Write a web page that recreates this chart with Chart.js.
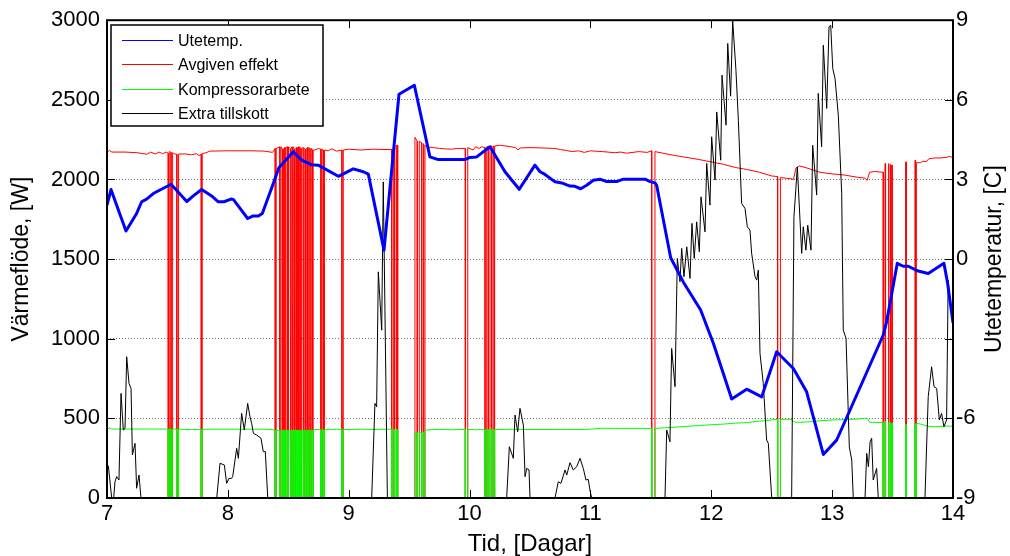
<!DOCTYPE html>
<html>
<head>
<meta charset="utf-8">
<script src="https://cdn.jsdelivr.net/npm/chart.js@4.4.1/dist/chart.umd.min.js"></script>
<style>
  html, body { margin: 0; padding: 0; background: #fff; }
  #chart { display: block; }
</style>
</head>
<body>
<canvas id="chart" width="1010" height="556"></canvas>
<script>
// tick labels
const tidTicks = [7, 8, 9, 10, 11, 12, 13, 14];
const effektTicks = [0, 500, 1000, 1500, 2000, 2500, 3000];
const tempTicks = [-9, -6, -3, 0, 3, 6, 9];
const tempHiddenLabel = -3; // the original leaves this tick unlabelled

const seriesNames = ['Utetemp.', 'Avgiven effekt', 'Kompressorarbete', 'Extra tillskott'];

// outdoor temperature [C], right axis
const dagTemp = [7.000, 7.033, 7.157, 7.245, 7.287, 7.328, 7.383, 7.530, 7.660, 7.714,
  7.783, 7.866, 7.921, 7.968, 8.026, 8.045, 8.164, 8.205, 8.252, 8.285,
  8.335, 8.376, 8.423, 8.473, 8.541, 8.611, 8.694, 8.748, 8.914, 9.038,
  9.121, 9.162, 9.292, 9.416, 9.543, 9.672, 9.741, 9.962, 10.003, 10.059,
  10.169, 10.293, 10.411, 10.541, 10.583, 10.624, 10.707, 10.762, 10.831, 10.872,
  10.919, 10.969, 11.024, 11.079, 11.135, 11.217, 11.272, 11.452, 11.494, 11.534,
  11.548, 11.664, 11.768, 11.912, 12.017, 12.169, 12.293, 12.417, 12.541, 12.679,
  12.789, 12.927, 13.037, 13.093, 13.423, 13.451, 13.539, 13.588, 13.630, 13.712,
  13.795, 13.925, 13.955, 14.000];
const uteTemp = [2.03, 2.62, 1.06, 1.72, 2.16, 2.26, 2.47, 2.82, 2.17, 2.38,
  2.62, 2.38, 2.16, 2.16, 2.26, 2.25, 1.53, 1.62, 1.62, 1.72,
  2.34, 2.85, 3.45, 3.70, 4.04, 3.73, 3.55, 3.54, 3.12, 3.40,
  3.29, 3.20, 0.34, 6.21, 6.55, 3.85, 3.75, 3.75, 3.83, 3.85,
  4.23, 3.29, 2.63, 3.54, 3.29, 3.19, 2.91, 2.87, 2.75, 2.74,
  2.65, 2.78, 2.97, 3.01, 2.92, 2.92, 3.01, 3.01, 2.92, 2.87,
  2.78, 0.05, -0.86, -1.92, -3.17, -5.27, -4.90, -5.19, -3.49, -4.12,
  -5.00, -7.36, -6.82, -6.25, -2.86, -2.36, -0.16, -0.27, -0.27, -0.45,
  -0.54, -0.16, -0.90, -2.40];

// heat pump samples: delivered heat and compressor work [W]
const dagPump = [7.000, 7.020, 7.040, 7.150, 7.250, 7.330, 7.360, 7.400, 7.430, 7.460, 7.490,
  7.507, 7.507, 7.515, 7.515, 7.530, 7.530, 7.543, 7.543, 7.560,
  7.578, 7.578, 7.592, 7.592, 7.650, 7.700, 7.740, 7.760,
  7.780, 7.780, 7.788, 7.788, 7.820, 7.850, 8.000, 8.200, 8.300, 8.370,
  8.392, 8.392, 8.400, 8.400, 8.430, 8.430, 8.440, 8.440,
  8.452, 8.452, 8.460, 8.460, 8.470, 8.470, 8.478, 8.478,
  8.492, 8.492, 8.502, 8.502, 8.515, 8.515, 8.522, 8.522,
  8.532, 8.532, 8.540, 8.540, 8.550, 8.550, 8.558, 8.558,
  8.568, 8.568, 8.576, 8.576, 8.586, 8.586, 8.594, 8.594,
  8.604, 8.604, 8.612, 8.612, 8.622, 8.622, 8.630, 8.630,
  8.640, 8.640, 8.648, 8.648, 8.658, 8.658, 8.666, 8.666,
  8.680, 8.680, 8.690, 8.690, 8.700, 8.700, 8.706, 8.706,
  8.720, 8.750, 8.770, 8.770, 8.778, 8.778, 8.790, 8.790, 8.800, 8.800,
  8.830, 8.860, 8.900, 8.944, 8.944, 8.955, 8.955,
  9.000, 9.100, 9.200, 9.300,
  9.356, 9.356, 9.372, 9.372, 9.380, 9.380, 9.395, 9.395, 9.405, 9.405,
  9.548, 9.548, 9.567, 9.567, 9.584, 9.584, 9.604, 9.604,
  9.617, 9.617, 9.622, 9.622, 9.631, 9.631,
  9.650, 9.700, 9.750, 9.800, 9.850, 9.900,
  9.965, 9.965, 9.985, 9.985, 10.030, 10.050, 10.080, 10.100,
  10.128, 10.128, 10.142, 10.142, 10.155, 10.155, 10.169, 10.169,
  10.183, 10.183, 10.196, 10.196, 10.203, 10.203, 10.210, 10.210,
  10.250, 10.300, 10.350, 10.380, 10.400, 10.420, 10.500, 10.600, 10.700,
  10.750, 10.800, 10.850, 10.900, 10.950, 11.000, 11.100, 11.200, 11.250,
  11.300, 11.400, 11.470,
  11.507, 11.507, 11.534, 11.534,
  11.600, 11.700, 11.800, 11.900, 12.000, 12.100, 12.200, 12.300, 12.400, 12.500,
  12.549, 12.549, 12.572, 12.572,
  12.620, 12.660, 12.680, 12.700, 12.730, 12.800, 12.900, 13.000, 13.100,
  13.200, 13.270, 13.290, 13.310, 13.350,
  13.423, 13.423, 13.437, 13.437, 13.442, 13.442, 13.465, 13.465,
  13.470, 13.470, 13.479, 13.479, 13.484, 13.484, 13.493, 13.493,
  13.497, 13.497, 13.608, 13.608, 13.614, 13.614, 13.685, 13.685,
  13.690, 13.690, 13.697, 13.697,
  13.730, 13.750, 13.780, 13.800, 13.850, 13.900, 13.950, 13.970, 14.000];
const avgivenEffekt = [2170, 2182, 2172, 2172, 2168, 2158, 2172, 2160, 2172, 2162, 2172,
  2165, 0, 0, 2175, 2170, 0, 0, 2168, 2160,
  2158, 0, 0, 2160, 2160, 2155, 2162, 2150,
  2158, 0, 0, 2162, 2168, 2178, 2180, 2180, 2178, 2170,
  2195, 0, 0, 2195, 2205, 0, 0, 2205,
  2190, 0, 0, 2190, 2200, 0, 0, 2200,
  2205, 0, 0, 2205, 2195, 0, 0, 2195,
  2205, 0, 0, 2205, 2190, 0, 0, 2190,
  2200, 0, 0, 2200, 2205, 0, 0, 2205,
  2195, 0, 0, 2195, 2200, 0, 0, 2200,
  2190, 0, 0, 2190, 2200, 0, 0, 2200,
  2195, 0, 0, 2195, 2185, 0, 0, 2185,
  2185, 2195, 2190, 0, 0, 2190, 2185, 0, 0, 2185,
  2180, 2192, 2178, 2185, 0, 0, 2185,
  2190, 2185, 2190, 2188,
  2188, 0, 0, 2215, 2215, 0, 0, 2215, 2215, 0,
  0, 2265, 2240, 0, 0, 2240, 2230, 0,
  0, 2225, 2225, 0, 0, 2215,
  2205, 2200, 2195, 2192, 2190, 2195,
  2195, 0, 0, 2200, 2185, 2205, 2195, 2205,
  2200, 0, 0, 2205, 2205, 0, 0, 2210,
  2210, 0, 0, 2210, 2210, 0, 0, 2210,
  2215, 2210, 2205, 2200, 2185, 2198, 2200, 2198, 2195,
  2188, 2182, 2175, 2180, 2170, 2180, 2175, 2168, 2172,
  2165, 2175, 2170,
  2180, 0, 0, 2175,
  2165, 2150, 2138, 2125, 2110, 2095, 2075, 2062, 2045, 2022,
  2018, 0, 0, 2012,
  2008, 2005, 2000, 2070, 2085, 2070, 2045, 2035, 2028,
  2015, 2008, 1995, 2045, 2050,
  2045, 0, 0, 2100, 2100, 0, 0, 2100,
  2100, 0, 0, 2095, 2095, 0, 0, 2090,
  2090, 0, 0, 2110, 2110, 0, 0, 2120,
  2120, 0, 0, 2105,
  2105, 2115, 2112, 2130, 2135, 2135, 2140, 2145, 2138];
const kompressorarbete = [430, 440, 433, 433, 433, 433, 433, 433, 433, 433, 433,
  433, 0, 0, 433, 433, 0, 0, 433, 433,
  433, 0, 0, 433, 430, 430, 430, 430,
  430, 0, 0, 430, 432, 432, 432, 432, 432, 430,
  425, 0, 0, 425, 425, 0, 0, 425,
  425, 0, 0, 425, 425, 0, 0, 425,
  425, 0, 0, 425, 425, 0, 0, 425,
  425, 0, 0, 425, 425, 0, 0, 425,
  425, 0, 0, 425, 425, 0, 0, 425,
  425, 0, 0, 425, 425, 0, 0, 425,
  425, 0, 0, 425, 425, 0, 0, 425,
  425, 0, 0, 425, 425, 0, 0, 425,
  430, 430, 428, 0, 0, 428, 428, 0, 0, 428,
  432, 430, 432, 430, 0, 0, 430,
  430, 432, 430, 432,
  432, 0, 0, 430, 430, 0, 0, 430, 430, 0,
  0, 410, 410, 0, 0, 410, 410, 0,
  0, 415, 415, 0, 0, 425,
  427, 430, 430, 430, 428, 430,
  430, 0, 0, 430, 430, 428, 430, 430,
  430, 0, 0, 430, 430, 0, 0, 430,
  430, 0, 0, 430, 430, 0, 0, 430,
  430, 430, 432, 430, 430, 430, 430, 430, 430,
  430, 430, 430, 430, 430, 432, 438, 437, 437,
  437, 437, 437,
  437, 0, 0, 437,
  440, 445, 450, 455, 460, 464, 470, 474, 482, 490,
  494, 0, 0, 494,
  494, 494, 480, 476, 475, 478, 485, 490, 492,
  495, 500, 500, 475, 475,
  474, 0, 0, 480, 480, 0, 0, 475,
  475, 0, 0, 475, 475, 0, 0, 470,
  470, 0, 0, 460, 460, 0, 0, 465,
  465, 0, 0, 470,
  464, 460, 455, 450, 448, 450, 452, 450, 452];

// auxiliary heater [W]
const dagExtra = [7.000, 7.012, 7.039, 7.055, 7.066, 7.080, 7.099, 7.116, 7.135, 7.149,
  7.163, 7.182, 7.199, 7.210, 7.232, 7.245, 7.265, 7.281,
  7.908, 7.935, 7.971, 7.990, 8.009, 8.030, 8.040, 8.073, 8.087, 8.114,
  8.136, 8.164, 8.183, 8.197, 8.211, 8.239, 8.274, 8.293, 8.310, 8.330,
  9.190, 9.217, 9.231, 9.245, 9.273, 9.286, 9.320,
  10.307, 10.329, 10.362, 10.376, 10.398, 10.417, 10.445, 10.459, 10.473, 10.492, 10.500,
  10.707, 10.734, 10.756, 10.790, 10.804, 10.831, 10.858, 10.886, 10.914, 10.941,
  10.963, 10.982, 10.996, 11.010,
  11.617, 11.631, 11.658, 11.672, 11.700, 11.719, 11.741, 11.755, 11.774, 11.797,
  11.824, 11.840, 11.859, 11.879, 11.901, 11.915, 11.948, 11.962, 11.989, 12.003,
  12.031, 12.045, 12.078, 12.089, 12.122, 12.136, 12.160, 12.177, 12.204, 12.224,
  12.251, 12.279, 12.298, 12.320, 12.334, 12.362, 12.376, 12.389, 12.403, 12.430,
  12.458, 12.472, 12.500,
  12.665, 12.684, 12.712, 12.748, 12.761, 12.783, 12.798, 12.825, 12.839, 12.872,
  12.885, 12.913, 12.927, 12.955, 12.974, 12.988, 13.005, 13.024, 13.051, 13.079,
  13.092, 13.115, 13.142, 13.162, 13.175,
  13.272, 13.286, 13.300, 13.314, 13.327, 13.340, 13.368, 13.382,
  13.768, 13.795, 13.823, 13.843, 13.865, 13.887, 13.906, 13.925, 13.947, 13.960,
  13.975, 14.000];
const extraTillskott = [218, 196, 0, 0, 102, 134, 113, 657, 427, 437,
  887, 720, 688, 270, 343, 61, 144, 0,
  0, 218, 207, 92, 123, 123, 134, 312, 249, 531,
  427, 594, 510, 469, 406, 395, 375, 291, 291, 0,
  0, 594, 573, 1420, 1054, 1985, 0,
  0, 322, 249, 521, 416, 563, 458, 134, 186, 176, 0,
  0, 102, 92, 176, 144, 222, 176, 196, 249, 186,
  113, 117, 50, 0,
  0, 427, 353, 939, 699, 1504, 1358, 1567, 1389, 1577,
  1379, 1724, 1504, 1734, 1546, 1891, 1671, 2101, 1839, 2268,
  1996, 2424, 2121, 2655, 2341, 2854, 2523, 3000, 2686, 2372,
  1850, 1818, 1703, 1682, 1536, 1389, 1368, 1431, 908, 720,
  364, 343, 0,
  0, 1766, 2079, 1536, 1703, 1556, 1713, 1556, 2215, 1902,
  2540, 2205, 2843, 2446, 2958, 2969, 2697, 2634, 2404, 1912,
  1054, 1002, 322, 238, 0,
  0, 280, 196, 353, 375, 113, 186, 0,
  0, 636, 824, 699, 688, 490, 531, 448, 490, 1368,
  1243, 1096];

const FONT = "'Liberation Sans', Arial, sans-serif";
Chart.defaults.font.family = FONT;
Chart.defaults.color = '#000';

function pts(xs, ys) {
  return xs.map((x, i) => ({ x: x, y: ys[i] }));
}

const colors = ['#0000ff', '#ff0000', '#00ff00', '#000000'];

// box, inward ticks, right title and legend (MATLAB look)
const matlabFrame = {
  id: 'matlabFrame',
  afterDatasetsDraw(chart) {
    const { ctx, chartArea: a, scales } = chart;
    ctx.save();
    ctx.strokeStyle = '#000';
    ctx.lineWidth = 1;
    ctx.beginPath();
    scales.x.ticks.forEach(t => {
      const px = Math.round(scales.x.getPixelForValue(t.value)) + 0.5;
      ctx.moveTo(px, a.bottom); ctx.lineTo(px, a.bottom - 8);
      ctx.moveTo(px, a.top); ctx.lineTo(px, a.top + 8);
    });
    scales.y.ticks.forEach(t => {
      const py = Math.round(scales.y.getPixelForValue(t.value)) + 0.5;
      ctx.moveTo(a.left, py); ctx.lineTo(a.left + 8, py);
    });
    scales.y2.ticks.forEach(t => {
      const py = Math.round(scales.y2.getPixelForValue(t.value)) + 0.5;
      ctx.moveTo(a.right, py); ctx.lineTo(a.right - 8, py);
    });
    ctx.stroke();
    ctx.lineWidth = 2;
    ctx.strokeRect(a.left, a.top, a.right - a.left, a.bottom - a.top);

    // right axis title, reads bottom to top like the left one
    ctx.save();
    ctx.translate(995, (a.top + a.bottom) / 2);
    ctx.rotate(-Math.PI / 2);
    ctx.font = '23px ' + FONT;
    ctx.fillStyle = '#000';
    ctx.textAlign = 'center';
    ctx.textBaseline = 'middle';
    ctx.fillText('Utetemperatur, [C]', 0, 0);
    ctx.restore();

    // legend
    const lx = 111, ly = 25, lw = 212, lh = 101;
    ctx.fillStyle = '#fff';
    ctx.fillRect(lx, ly, lw, lh);
    ctx.lineWidth = 1.5;
    ctx.strokeStyle = '#000';
    ctx.strokeRect(lx, ly, lw, lh);
    ctx.font = '16px ' + FONT;
    ctx.textAlign = 'left';
    ctx.textBaseline = 'middle';
    seriesNames.forEach((name, i) => {
      const ry = Math.round(ly + 14.5 + i * 24.5) + 0.5;
      ctx.strokeStyle = colors[i];
      ctx.lineWidth = 1;
      ctx.beginPath();
      ctx.moveTo(122, ry); ctx.lineTo(173, ry);
      ctx.stroke();
      ctx.fillStyle = '#000';
      ctx.fillText(name, 178, ry + 1);
    });
    ctx.restore();
  }
};

new Chart(document.getElementById('chart'), {
  type: 'line',
  data: {
    datasets: [
      { label: seriesNames[0], data: pts(dagTemp, uteTemp), yAxisID: 'y2',
        borderColor: colors[0], borderWidth: 3 },
      { label: seriesNames[3], data: pts(dagExtra, extraTillskott), yAxisID: 'y',
        borderColor: colors[3], borderWidth: 1 },
      { label: seriesNames[2], data: pts(dagPump, kompressorarbete), yAxisID: 'y',
        borderColor: colors[2], borderWidth: 1 },
      { label: seriesNames[1], data: pts(dagPump, avgivenEffekt), yAxisID: 'y',
        borderColor: colors[1], borderWidth: 1 }
    ]
  },
  options: {
    responsive: false,
    devicePixelRatio: 1,
    animation: false,
    layout: { padding: { top: 20, left: 0, right: 0, bottom: 0 } },
    elements: {
      point: { radius: 0, hoverRadius: 0 },
      line: { tension: 0, fill: false, borderJoinStyle: 'round' }
    },
    plugins: {
      legend: { display: false },
      tooltip: { enabled: false }
    },
    scales: {
      x: {
        type: 'linear',
        min: 7, max: 14,
        afterBuildTicks: s => { s.ticks = tidTicks.map(v => ({ value: v })); },
        afterFit: s => { s.height = 58; },
        grid: { display: false, drawTicks: false },
        border: { display: false },
        ticks: { font: { size: 22 }, padding: 3, maxRotation: 0, autoSkip: false,
          callback: v => String(v) },
        title: { display: true, text: 'Tid, [Dagar]', font: { size: 24 }, padding: { top: 0, bottom: -3 } }
      },
      y: {
        position: 'left',
        min: 0, max: 3000,
        afterBuildTicks: s => { s.ticks = effektTicks.map(v => ({ value: v })); },
        afterFit: s => { s.width = 107; },
        grid: {
          drawTicks: false,
          lineWidth: 1,
          color: c => (c.tick && (c.tick.value === 0 || c.tick.value === 3000)) ? 'rgba(0,0,0,0)' : '#6e6e6e'
        },
        border: { display: false, dash: [1, 2] },
        ticks: { font: { size: 22 }, padding: 7, callback: v => String(v) },
        title: { display: true, text: 'Värmeflöde, [W]', font: { size: 23 }, padding: { top: 8, bottom: 0 } }
      },
      y2: {
        position: 'right',
        min: -9, max: 9,
        afterBuildTicks: s => { s.ticks = tempTicks.map(v => ({ value: v })); },
        afterFit: s => { s.width = 57; },
        grid: { display: false, drawTicks: false },
        border: { display: false },
        ticks: { font: { size: 22 }, padding: 3,
          callback: v => (v === tempHiddenLabel ? '' : String(v)) }
      }
    }
  },
  plugins: [matlabFrame]
});
</script>
</body>
</html>
